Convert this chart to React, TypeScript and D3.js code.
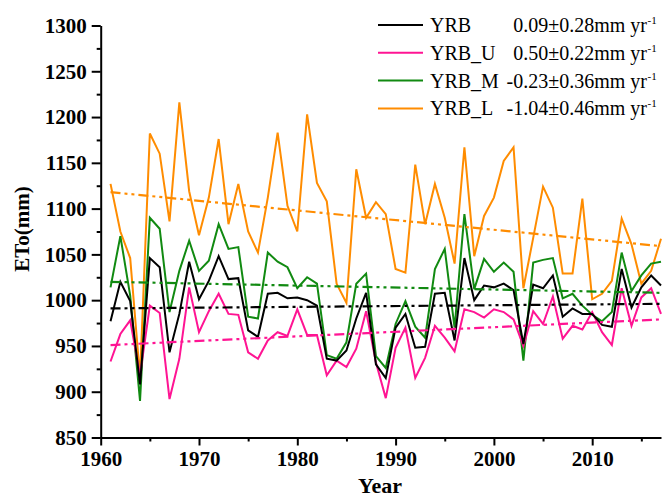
import React, { useRef, useEffect } from 'react'
import * as d3 from 'd3'

const years = d3.range(1961, 2018)

const yrb = [977, 1020, 999, 908, 1046, 1036, 943, 985, 1042, 1001, 1021, 1048, 1023, 1024, 967, 960, 1007, 1008, 1002, 1003, 1000, 994, 936, 934, 945, 980, 1008, 930, 915, 970, 985, 948, 949, 1007, 1008, 956, 1046, 1000, 1016, 1014, 1018, 1011, 952, 1017, 1013, 1027, 982, 991, 985, 985, 973, 971, 1034, 992, 1014, 1027, 1016]
const yrbU = [933, 963, 978, 918, 994, 986, 892, 936, 1014, 965, 988, 1007, 985, 984, 943, 936, 956, 965, 961, 990, 962, 962, 918, 934, 927, 947, 988, 932, 893, 948, 970, 915, 937, 972, 959, 944, 990, 987, 981, 990, 987, 979, 950, 988, 974, 1004, 958, 972, 968, 987, 965, 951, 1013, 972, 1003, 1013, 985]
const yrbM = [1014, 1070, 1005, 890, 1090, 1078, 987, 1032, 1065, 1032, 1043, 1083, 1056, 1058, 982, 980, 1052, 1042, 1036, 1013, 1025, 1018, 940, 936, 954, 1018, 1029, 939, 926, 974, 999, 971, 959, 1034, 1056, 970, 1094, 1012, 1045, 1031, 1041, 1031, 934, 1041, 1044, 1046, 1002, 1007, 994, 984, 977, 987, 1052, 1010, 1027, 1040, 1042]
const yrbL = [1127, 1075, 1046, 916, 1182, 1160, 1086, 1216, 1119, 1071, 1112, 1176, 1083, 1127, 1075, 1052, 1112, 1183, 1103, 1075, 1203, 1128, 1108, 1018, 997, 1143, 1090, 1107, 1094, 1034, 1030, 1148, 1083, 1127, 1090, 1040, 1167, 1048, 1092, 1112, 1152, 1167, 1013, 1068, 1124, 1101, 1029, 1029, 1111, 1001, 1007, 1021, 1089, 1061, 1018, 1032, 1067]

// linear trend values at first and last year
const trendStart = [991, 951, 1020, 1118]
const trendEnd = [996, 979, 1008, 1059]

const names = ['YRB', 'YRB_U', 'YRB_M', 'YRB_L']
const slopes = ['0.09±0.28mm yr', '0.50±0.22mm yr', '-0.23±0.36mm yr', '-1.04±0.46mm yr']
const colors = ['#000000', '#ff1493', '#118a11', '#ff8c00']
const seriesValues = [yrb, yrbU, yrbM, yrbL]

const yMajor = d3.range(850, 1301, 50)
const yMinor = d3.range(875, 1300, 50)
const xMajor = [1960, 1970, 1980, 1990, 2000, 2010]
const xMinor = [1965, 1975, 1985, 1995, 2005, 2015]

const FONT = "'Liberation Serif', 'Times New Roman', serif"

export default function App() {
  const svgRef = useRef<SVGSVGElement | null>(null)

  useEffect(() => {
    if (!svgRef.current) return
    const svg = d3.select(svgRef.current)
    svg.selectAll('*').remove()

    const x = d3.scaleLinear().domain([1960, 2017]).range([100.7, 661])
    const y = d3.scaleLinear().domain([850, 1300]).range([437.5, 25.5])

    // series lines
    const line = d3.line<number>()
      .x((_, i) => x(years[i]))
      .y(d => y(d))

    // orange first so the others sit on top
    const order = [3, 2, 1, 0]
    order.forEach(k => {
      svg.append('path')
        .datum(seriesValues[k])
        .attr('d', line)
        .attr('fill', 'none')
        .attr('stroke', colors[k])
        .attr('stroke-width', 2)
    })

    // trend lines
    order.forEach(k => {
      svg.append('line')
        .attr('x1', x(years[0]))
        .attr('x2', x(years[years.length - 1]))
        .attr('y1', y(trendStart[k]))
        .attr('y2', y(trendEnd[k]))
        .attr('stroke', colors[k])
        .attr('stroke-width', 2.2)
        .attr('stroke-dasharray', '10,4,3,4,3,4')
    })

    // axes
    const xAxis = svg.append('g')
      .attr('transform', 'translate(0,437.5)')
      .call(d3.axisBottom(x).tickValues(xMajor).tickSize(8).tickSizeOuter(0).tickPadding(6).tickFormat(d3.format('d')))
    svg.append('g')
      .attr('transform', 'translate(0,437.5)')
      .call(d3.axisBottom(x).tickValues(xMinor).tickSize(4).tickFormat(() => ''))
      .call(g => g.select('.domain').remove())

    const yAxis = svg.append('g')
      .attr('transform', 'translate(100.7,0)')
      .call(d3.axisLeft(y).tickValues(yMajor).tickSize(9).tickSizeOuter(0).tickPadding(5).tickFormat(d3.format('d')))
    svg.append('g')
      .attr('transform', 'translate(100.7,0)')
      .call(d3.axisLeft(y).tickValues(yMinor).tickSize(4).tickFormat(() => ''))
      .call(g => g.select('.domain').remove())

    svg.selectAll('.domain').attr('stroke-width', 2)
    svg.selectAll('.tick line').attr('stroke-width', 2)
    ;[xAxis, yAxis].forEach(a => a.selectAll('text')
      .style('font-family', FONT)
      .style('font-weight', 'bold')
      .style('font-size', '21px')
      .attr('fill', '#000'))

    // axis titles
    svg.append('text')
      .attr('x', 380)
      .attr('y', 493)
      .attr('text-anchor', 'middle')
      .style('font-family', FONT)
      .style('font-weight', 'bold')
      .style('font-size', '22px')
      .text('Year')
    svg.append('text')
      .attr('transform', 'translate(29,229) rotate(-90)')
      .attr('text-anchor', 'middle')
      .style('font-family', FONT)
      .style('font-weight', 'bold')
      .style('font-size', '21px')
      .text('ETo(mm)')

    // legend
    names.forEach((name, i) => {
      const ly = 25 + i * 27.8
      svg.append('line')
        .attr('x1', 378).attr('x2', 423)
        .attr('y1', ly).attr('y2', ly)
        .attr('stroke', colors[i])
        .attr('stroke-width', 2)
      svg.append('text')
        .attr('x', 430).attr('y', ly + 7)
        .style('font-family', FONT)
        .style('font-size', '20px')
        .text(name)
      svg.append('text')
        .attr('x', 647).attr('y', ly + 7)
        .attr('text-anchor', 'end')
        .style('font-family', FONT)
        .style('font-size', '20px')
        .text(slopes[i])
      svg.append('text')
        .attr('x', 647.5).attr('y', ly - 1)
        .style('font-family', FONT)
        .style('font-size', '11px')
        .text('-1')
    })
  }, [])

  return (
    <svg
      ref={svgRef}
      width={662}
      height={498}
      style={{ position: 'absolute', left: 0, top: 0, background: '#fff' }}
    />
  )
}
